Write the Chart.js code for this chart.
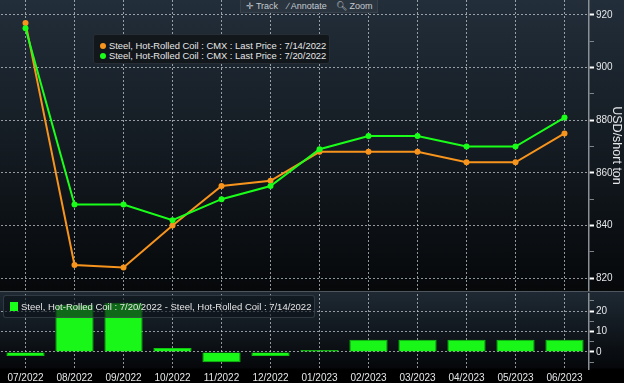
<!DOCTYPE html>
<html><head><meta charset="utf-8">
<script src="https://cdn.jsdelivr.net/npm/chart.js@4.4.0/dist/chart.umd.min.js"></script>
<style>
html,body{margin:0;padding:0;background:#000;width:624px;height:383px;overflow:hidden;font-family:"Liberation Sans",Arial,sans-serif;}
#topWrap{position:absolute;left:0;top:0;width:624px;height:291px;background:linear-gradient(#222e3a,#06080a);}
#sep{position:absolute;left:0;top:291px;width:624px;height:1px;background:#50565e;}
#botWrap{position:absolute;left:0;top:292px;width:624px;height:91px;background:linear-gradient(#1e2933 0px,#05070a 76px,#000 77px);}
canvas{position:absolute;left:0;top:0;}
#toolbar{position:absolute;left:240px;top:0;width:138px;height:13px;background:#2a3540;border:1px solid #36414c;border-top:none;box-sizing:border-box;color:#c6cacf;font-size:9px;line-height:12px;display:flex;justify-content:space-around;}
#toolbar span{white-space:nowrap;}
#legTop{position:absolute;left:93px;top:34px;width:237px;height:30px;background:#12171c;border:1px solid #272d34;border-radius:3px;box-sizing:border-box;color:#e6e6e6;font-size:9.4px;}
.lrow{position:absolute;left:6px;height:11px;line-height:11px;white-space:nowrap;}
.dot{display:inline-block;width:6px;height:6px;border-radius:50%;margin-right:3px;vertical-align:0px;}
#legBot{position:absolute;left:3px;top:295px;width:312px;height:23px;background:rgba(12,18,24,0.62);border:1px solid rgba(70,80,90,0.6);border-radius:3px;box-sizing:border-box;color:#e6e6e6;font-size:9.5px;line-height:21px;white-space:nowrap;padding-left:6px;}
.sq{display:inline-block;width:8px;height:9px;background:#19ff19;margin-right:3px;vertical-align:-1px;}
</style></head>
<body>
<div id="topWrap"><canvas id="cTop" width="624" height="291"></canvas></div>
<div id="sep"></div>
<div id="botWrap"><canvas id="cBot" width="624" height="91"></canvas></div>
<div id="toolbar"><span>&#x271B; Track</span><span>&#x2215; Annotate</span><span>&#x1F50D;&#xFE0E; Zoom</span></div>
<div id="legTop">
  <div class="lrow" style="top:5px"><span class="dot" style="background:#f7941d"></span>Steel, Hot-Rolled Coil : CMX : Last Price : 7/14/2022</div>
  <div class="lrow" style="top:15px"><span class="dot" style="background:#1aff1a"></span>Steel, Hot-Rolled Coil : CMX : Last Price : 7/20/2022</div>
</div>
<div id="legBot"><span class="sq"></span>Steel, Hot-Rolled Coil : 7/20/2022 - Steel, Hot-Rolled Coil : 7/14/2022</div>
<script>
const months = ['07/2022','08/2022','09/2022','10/2022','11/2022','12/2022','01/2023','02/2023','03/2023','04/2023','05/2023','06/2023'];
const hrc0714 = [917,825,824,840,855,857,868,868,868,864,864,875];
const hrc0720 = [915,848,848,842,850,855,869,874,874,870,870,881];
const spread = [-2,23,24,2,-5,-2,1,6,6,6,6,6];
const priceTicks = [820,840,860,880,900,920];
const priceMinor = [830,850,870,890,910];
const spreadTicks = [0,10,20];
const spreadMinor = [-5,5,15,25];

const GRID = 'rgba(205,210,215,0.7)';
const ORANGE = '#f7941d';
const GREEN = '#1aff1a';
const TXT = '#e4e6e8';
const FONT = {family:'"Liberation Sans", Arial, sans-serif', size:10};

function yAxis(min, max, major, minor, title){
  return {
    position:'right', min:min, max:max,
    afterBuildTicks(s){ s.ticks = major.concat(minor).sort((a,b)=>a-b).map(v=>({value:v})); },
    afterFit(s){ s.width = 35; s.paddingTop = 0; s.paddingBottom = 0; },
    ticks:{ color:TXT, font:FONT, padding:2, autoSkip:false,
      callback:(v)=> major.includes(v) ? String(v) : '' },
    grid:{ color:(c)=> major.includes(c.tick && c.tick.value) ? GRID : 'rgba(0,0,0,0)',
      tickColor:(c)=> major.includes(c.tick && c.tick.value) ? '#ffffff' : '#7d838a',
      tickWidth:(c)=> major.includes(c.tick && c.tick.value) ? 2 : 1,
      tickLength:5, lineWidth:1 },
    border:{ display:true, color:'#8b9096', width:1.5, dash:[2,2] },
    title: title ? {display:true, text:title, color:TXT, font:{family:FONT.family, size:12.5}, padding:0} : {display:false}
  };
}

new Chart(document.getElementById('cTop'), {
  type:'line',
  data:{ labels:months, datasets:[
    {label:'Steel, Hot-Rolled Coil : CMX : Last Price : 7/20/2022', data:hrc0720, borderColor:GREEN, backgroundColor:GREEN, borderWidth:2, pointRadius:3, pointBorderWidth:0, tension:0},
    {label:'Steel, Hot-Rolled Coil : CMX : Last Price : 7/14/2022', data:hrc0714, borderColor:ORANGE, backgroundColor:ORANGE, borderWidth:2, pointRadius:3, pointBorderWidth:0, tension:0}
  ]},
  options:{
    responsive:false, animation:false, devicePixelRatio:1,
    layout:{autoPadding:false, padding:{left:1,right:0,top:0,bottom:0}},
    plugins:{legend:{display:false}, tooltip:{enabled:false}},
    scales:{
      x:{ offset:true, ticks:{display:false}, afterFit(s){ s.height = 0; s.paddingLeft = 0; s.paddingRight = 0; },
        grid:{offset:false, color:GRID, drawTicks:false, lineWidth:1},
        border:{display:false, dash:[2,2]} },
      y: yAxis(815.1, 925.7, priceTicks, priceMinor, 'USD/short ton')
    }
  }
});

new Chart(document.getElementById('cBot'), {
  type:'bar',
  data:{ labels:months, datasets:[
    {label:'Steel, Hot-Rolled Coil : 7/20/2022 - Steel, Hot-Rolled Coil : 7/14/2022', data:spread, backgroundColor:'#19f719', borderColor:'#0fc40f', borderWidth:1, categoryPercentage:1, barPercentage:0.78}
  ]},
  options:{
    responsive:false, animation:false, devicePixelRatio:1,
    layout:{autoPadding:false, padding:{left:1,right:0,top:2,bottom:0}},
    plugins:{legend:{display:false}, tooltip:{enabled:false}},
    scales:{
      x:{ offset:true, ticks:{color:TXT, font:FONT, padding:3, maxRotation:0, autoSkip:false},
        afterFit(s){ s.height = 14; s.paddingLeft = 0; s.paddingRight = 0; },
        grid:{offset:false, color:GRID, drawTicks:false, lineWidth:1},
        border:{display:false, dash:[2,2]} },
      y: yAxis(-8.3, 28.3, spreadTicks, spreadMinor, null)
    }
  }
});
</script>
</body></html>
